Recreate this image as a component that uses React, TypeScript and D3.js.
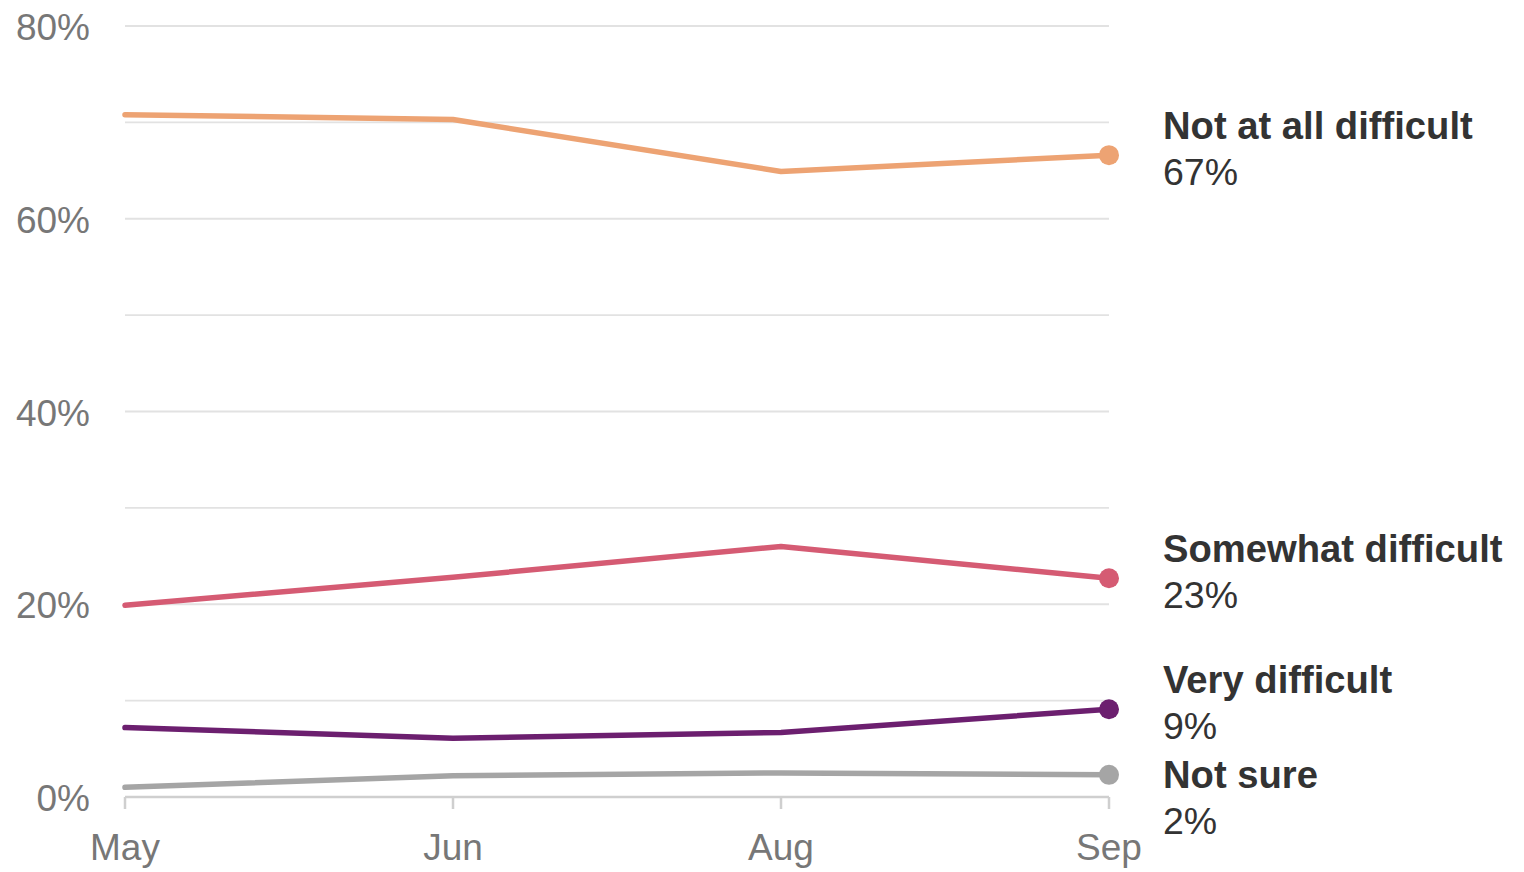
import React from "react";
import * as d3 from "d3";

const months = ["May", "Jun", "Aug", "Sep"];
const seriesNames = ["Not at all difficult", "Somewhat difficult", "Very difficult", "Not sure"];
const notAtAll = [70.8, 70.3, 64.9, 66.6];
const somewhat = [19.9, 22.8, 26.0, 22.7];
const veryDifficult = [7.2, 6.1, 6.7, 9.1];
const notSure = [1.0, 2.2, 2.5, 2.3];
const finalLabels = ["67%", "23%", "9%", "2%"];
const colors = ["#EDA373", "#D55B73", "#6C1F6F", "#A5A5A5"];
const gridValues = [0, 10, 20, 30, 40, 50, 60, 70, 80];
const tickValues = [0, 20, 40, 60, 80];

const W = 1524;
const H = 872;
const FONT = "'Liberation Sans', Arial, Helvetica, sans-serif";

export default function App() {
  const x = d3.scalePoint<string>().domain(months).range([125, 1109]);
  const y = d3.scaleLinear().domain([0, 80]).range([797, 26]);
  const allSeries = [notAtAll, somewhat, veryDifficult, notSure];
  const line = d3
    .line<number>()
    .x((_, i) => x(months[i]) as number)
    .y((d) => y(d));

  // label layout with simple collision avoidance
  const blockH = 95;
  const labelY: number[] = [];
  allSeries.forEach((s, i) => {
    let ly = y(s[s.length - 1]) - 16;
    if (i > 0 && ly < labelY[i - 1] + blockH) ly = labelY[i - 1] + blockH;
    labelY.push(ly);
  });

  const xEnd = x(months[months.length - 1]) as number;

  return (
    <svg
      width={W}
      height={H}
      style={{ position: "absolute", left: 0, top: 0, background: "#fff" }}
      fontFamily={FONT}
    >
      {gridValues.map((g) => (
        <line
          key={g}
          x1={125}
          x2={xEnd}
          y1={y(g)}
          y2={y(g)}
          stroke={g === 0 ? "#cfcfcf" : "#e2e2e2"}
          strokeWidth={g === 0 ? 2.5 : 1.8}
        />
      ))}
      {months.map((m) => (
        <line
          key={m}
          x1={x(m)}
          x2={x(m)}
          y1={y(0)}
          y2={y(0) + 12}
          stroke="#cfcfcf"
          strokeWidth={2.5}
        />
      ))}
      {tickValues.map((t) => (
        <text
          key={t}
          x={90}
          y={y(t) + 14}
          textAnchor="end"
          fontSize={37}
          fill="#777"
        >
          {t}%
        </text>
      ))}
      {months.map((m) => (
        <text
          key={m}
          x={x(m)}
          y={860}
          textAnchor="middle"
          fontSize={37}
          fill="#777"
        >
          {m}
        </text>
      ))}
      {allSeries.map((s, i) => (
        <g key={seriesNames[i]}>
          <path
            d={line(s) || ""}
            fill="none"
            stroke={colors[i]}
            strokeWidth={5.5}
            strokeLinejoin="round"
            strokeLinecap="round"
          />
          <circle cx={xEnd} cy={y(s[s.length - 1])} r={10} fill={colors[i]} />
          <text x={1163} y={labelY[i]} fontSize={38.2} fontWeight="bold" fill="#333">
            {seriesNames[i]}
          </text>
          <text x={1163} y={labelY[i] + 46} fontSize={37.5} fill="#333">
            {finalLabels[i]}
          </text>
        </g>
      ))}
    </svg>
  );
}
